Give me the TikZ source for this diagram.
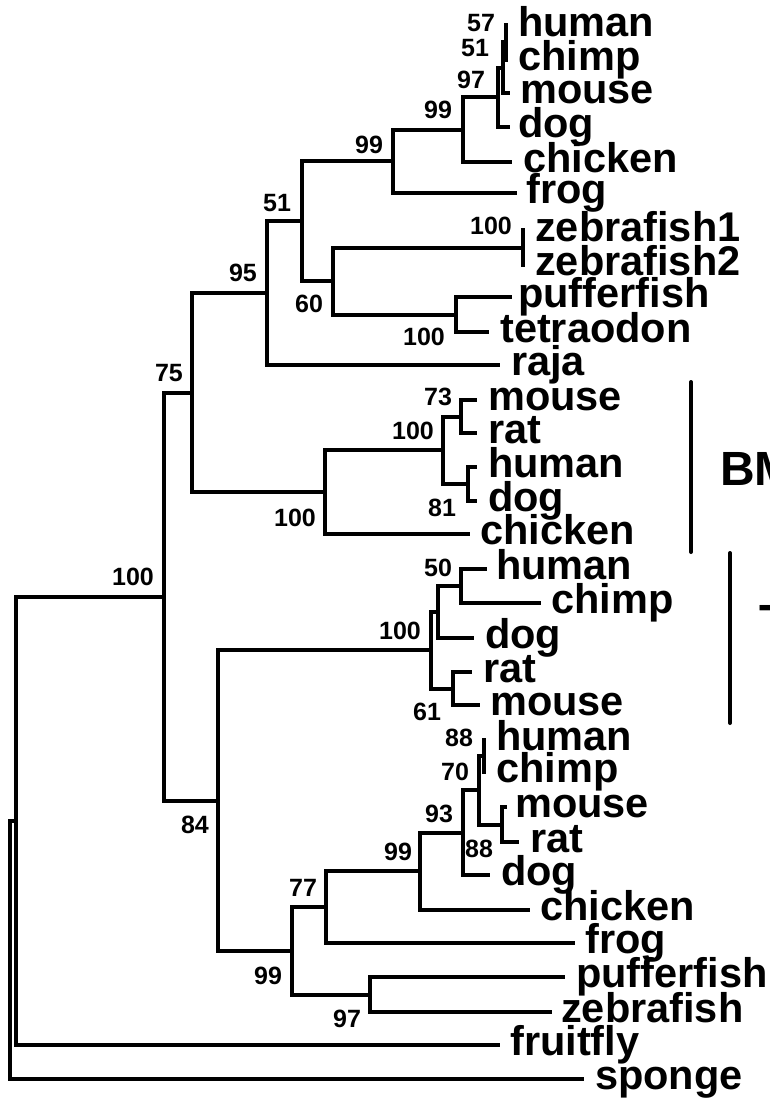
\documentclass[tikz,border=0pt]{standalone}
\usepackage{fontspec}
\setmainfont{Liberation Sans}
\begin{document}
\begin{tikzpicture}[x=1pt,y=-1pt,
  br/.style={line width=4pt, line cap=rect},
  taxon/.style={anchor=base west, inner sep=0pt, yshift=-10.8pt, font=\fontsize{41.5}{41.5}\selectfont\bfseries},
  bs/.style={anchor=center, inner sep=0pt, font=\fontsize{25}{25}\selectfont\bfseries},
  grp/.style={line width=4pt, line cap=round},
  glab/.style={anchor=base west, inner sep=0pt, font=\fontsize{48}{48}\selectfont\bfseries}]
\useasboundingbox (0,0) rectangle (770,1102);
\clip (0,0) rectangle (770,1102);

% ---------- clade A coordinates ----------
\coordinate (tAhu) at (506,25);
\coordinate (tAch) at (506,60);
\coordinate (a57) at (506,42.5);
\coordinate (tAmo) at (508,93);
\coordinate (a51) at (503,67.75);
\coordinate (tAdo) at (508,127);
\coordinate (a97) at (498,97.4);
\coordinate (tAck) at (510,162);
\coordinate (a99a) at (463,129.7);
\coordinate (tAfr) at (515,193);
\coordinate (a99b) at (393,161.3);
\coordinate (tZ1) at (523,230);
\coordinate (tZ2) at (523,265);
\coordinate (a100z) at (523,247.5);
\coordinate (tPu) at (510,297);
\coordinate (tTe) at (487,332);
\coordinate (a100p) at (456,314.5);
\coordinate (a60) at (333,281);
\coordinate (a51b) at (302,221.2);
\coordinate (tRa) at (498,365);
\coordinate (a95) at (267,293.1);
% ---------- clade B ----------
\coordinate (tBmo) at (475,400);
\coordinate (tBra) at (475,433);
\coordinate (b73) at (461,416.5);
\coordinate (tBhu) at (475,467);
\coordinate (tBdo) at (475,501);
\coordinate (b81) at (468,484);
\coordinate (b100a) at (443,450.25);
\coordinate (tBck) at (468,534);
\coordinate (b100) at (325,492.1);
\coordinate (n75) at (192,392.6);
% ---------- clade C ----------
\coordinate (tChu) at (485,569);
\coordinate (tCch) at (539,603);
\coordinate (c50) at (461,586);
\coordinate (tCdo) at (472,638);
\coordinate (c100a) at (438,612);
\coordinate (tCra) at (470,672);
\coordinate (tCmo) at (478,705);
\coordinate (c61) at (453,688.5);
\coordinate (c100) at (431,650.25);
% ---------- clade D ----------
\coordinate (tDhu) at (484,740);
\coordinate (tDch) at (484,772);
\coordinate (d88a) at (484,756);
\coordinate (tDmo) at (505,807);
\coordinate (tDra) at (517,842);
\coordinate (d88b) at (502,824.5);
\coordinate (d70) at (479,790.25);
\coordinate (tDdo) at (488,875);
\coordinate (d93) at (463,832.6);
\coordinate (tDck) at (528,910);
\coordinate (d99a) at (420,871.3);
\coordinate (tDfr) at (573,943);
\coordinate (d77) at (326,907.2);
\coordinate (tDpu) at (563,977);
\coordinate (tDze) at (550,1012);
\coordinate (d97) at (370,994.5);
\coordinate (d99b) at (292,950.8);
\coordinate (n84) at (218,800.5);
\coordinate (n100) at (164,596.6);
\coordinate (tFly) at (498,1045);
\coordinate (n16) at (16,820.8);
\coordinate (tSp) at (582,1079);
\coordinate (root) at (10,950);

% ---------- branches ----------
\draw[br] (a57) |- (tAhu);
\draw[br] (a57) |- (tAch);
\draw[br] (a51) |- (a57);
\draw[br] (a51) |- (tAmo);
\draw[br] (a97) |- (a51);
\draw[br] (a97) |- (tAdo);
\draw[br] (a99a) |- (a97);
\draw[br] (a99a) |- (tAck);
\draw[br] (a99b) |- (a99a);
\draw[br] (a99b) |- (tAfr);
\draw[br] (a100z) |- (tZ1);
\draw[br] (a100z) |- (tZ2);
\draw[br] (a100p) |- (tPu);
\draw[br] (a100p) |- (tTe);
\draw[br] (a60) |- (a100z);
\draw[br] (a60) |- (a100p);
\draw[br] (a51b) |- (a99b);
\draw[br] (a51b) |- (a60);
\draw[br] (a95) |- (a51b);
\draw[br] (a95) |- (tRa);
\draw[br] (b73) |- (tBmo);
\draw[br] (b73) |- (tBra);
\draw[br] (b81) |- (tBhu);
\draw[br] (b81) |- (tBdo);
\draw[br] (b100a) |- (b73);
\draw[br] (b100a) |- (b81);
\draw[br] (b100) |- (b100a);
\draw[br] (b100) |- (tBck);
\draw[br] (n75) |- (a95);
\draw[br] (n75) |- (b100);
\draw[br] (c50) |- (tChu);
\draw[br] (c50) |- (tCch);
\draw[br] (c100a) |- (c50);
\draw[br] (c100a) |- (tCdo);
\draw[br] (c61) |- (tCra);
\draw[br] (c61) |- (tCmo);
\draw[br] (c100) |- (c100a);
\draw[br] (c100) |- (c61);
\draw[br] (d88a) |- (tDhu);
\draw[br] (d88a) |- (tDch);
\draw[br] (d88b) |- (tDmo);
\draw[br] (d88b) |- (tDra);
\draw[br] (d70) |- (d88a);
\draw[br] (d70) |- (d88b);
\draw[br] (d93) |- (d70);
\draw[br] (d93) |- (tDdo);
\draw[br] (d99a) |- (d93);
\draw[br] (d99a) |- (tDck);
\draw[br] (d77) |- (d99a);
\draw[br] (d77) |- (tDfr);
\draw[br] (d97) |- (tDpu);
\draw[br] (d97) |- (tDze);
\draw[br] (d99b) |- (d77);
\draw[br] (d99b) |- (d97);
\draw[br] (n84) |- (c100);
\draw[br] (n84) |- (d99b);
\draw[br] (n100) |- (n75);
\draw[br] (n100) |- (n84);
\draw[br] (n16) |- (n100);
\draw[br] (n16) |- (tFly);
\draw[br] (root) |- (n16);
\draw[br] (root) |- (tSp);

% ---------- taxon labels ----------
\node[taxon] (LAhu) at (518,26) {human};
\node[taxon] (LAch) at (518,60) {chimp};
\node[taxon] (LAmo) at (520,93) {mouse};
\node[taxon] (LAdo) at (518,127) {dog};
\node[taxon] (LAck) at (523,162) {chicken};
\node[taxon] (LAfr) at (526,193) {frog};
\node[taxon] (LZ1) at (535,231) {zebrafish1};
\node[taxon] (LZ2) at (535,265) {zebrafish2};
\node[taxon] (LPu) at (518,297) {pufferfish};
\node[taxon] (LTe) at (500,332) {tetraodon};
\node[taxon] (LRa) at (511,365) {raja};
\node[taxon] (LBmo) at (488,400) {mouse};
\node[taxon] (LBra) at (488,433) {rat};
\node[taxon] (LBhu) at (488,467) {human};
\node[taxon] (LBdo) at (488,501) {dog};
\node[taxon] (LBck) at (480,534) {chicken};
\node[taxon] (LChu) at (496,569) {human};
\node[taxon] (LCch) at (551,603) {chimp};
\node[taxon] (LCdo) at (485,638) {dog};
\node[taxon] (LCra) at (483,672) {rat};
\node[taxon] (LCmo) at (490,705) {mouse};
\node[taxon] (LDhu) at (496,740) {human};
\node[taxon] (LDch) at (496,772) {chimp};
\node[taxon] (LDmo) at (515,807) {mouse};
\node[taxon] (LDra) at (530,842) {rat};
\node[taxon] (LDdo) at (501,875) {dog};
\node[taxon] (LDck) at (540,910) {chicken};
\node[taxon] (LDfr) at (585,943) {frog};
\node[taxon] (LDpu) at (576,977) {pufferfish};
\node[taxon] (LDze) at (561,1012) {zebrafish};
\node[taxon] (LFly) at (510,1045) {fruitfly};
\node[taxon] (LSp) at (595,1079) {sponge};

% ---------- bootstrap values ----------
\node[bs] (s57) at (481,23) {57};
\node[bs] (s51) at (475,48) {51};
\node[bs] (s97) at (471,80) {97};
\node[bs] (s99a) at (438,110) {99};
\node[bs] (s99b) at (369,145) {99};
\node[bs] (s100z) at (491,226) {100};
\node[bs] (s51b) at (277,203) {51};
\node[bs] (s95) at (243,273) {95};
\node[bs] (s60) at (309,304) {60};
\node[bs] (s100p) at (424,337) {100};
\node[bs] (s75) at (169,373) {75};
\node[bs] (s100b) at (295,518) {100};
\node[bs] (s73) at (438,397) {73};
\node[bs] (s100ba) at (413,431) {100};
\node[bs] (s81) at (442,508) {81};
\node[bs] (s50) at (438,568) {50};
\node[bs] (s100c) at (400,631) {100};
\node[bs] (s61) at (427,712) {61};
\node[bs] (s100r) at (133,577) {100};
\node[bs] (s84) at (195,825) {84};
\node[bs] (s88a) at (459,738) {88};
\node[bs] (s70) at (455,772) {70};
\node[bs] (s93) at (439,814) {93};
\node[bs] (s88b) at (479,849) {88};
\node[bs] (s99c) at (398,852) {99};
\node[bs] (s77) at (303,888) {77};
\node[bs] (s99d) at (268,976) {99};
\node[bs] (s97b) at (347,1019) {97};

% ---------- group brackets ----------
\coordinate (g1a) at (691,382);
\coordinate (g1b) at (691,552);
\coordinate (g2a) at (730,553);
\coordinate (g2b) at (730,723);
\draw[grp] (g1a) -- (g1b);
\draw[grp] (g2a) -- (g2b);
\node[glab] (G1) at (720,485) {BM};
\node[glab] (G2) at (759,638) {T};
\end{tikzpicture}
\end{document}
